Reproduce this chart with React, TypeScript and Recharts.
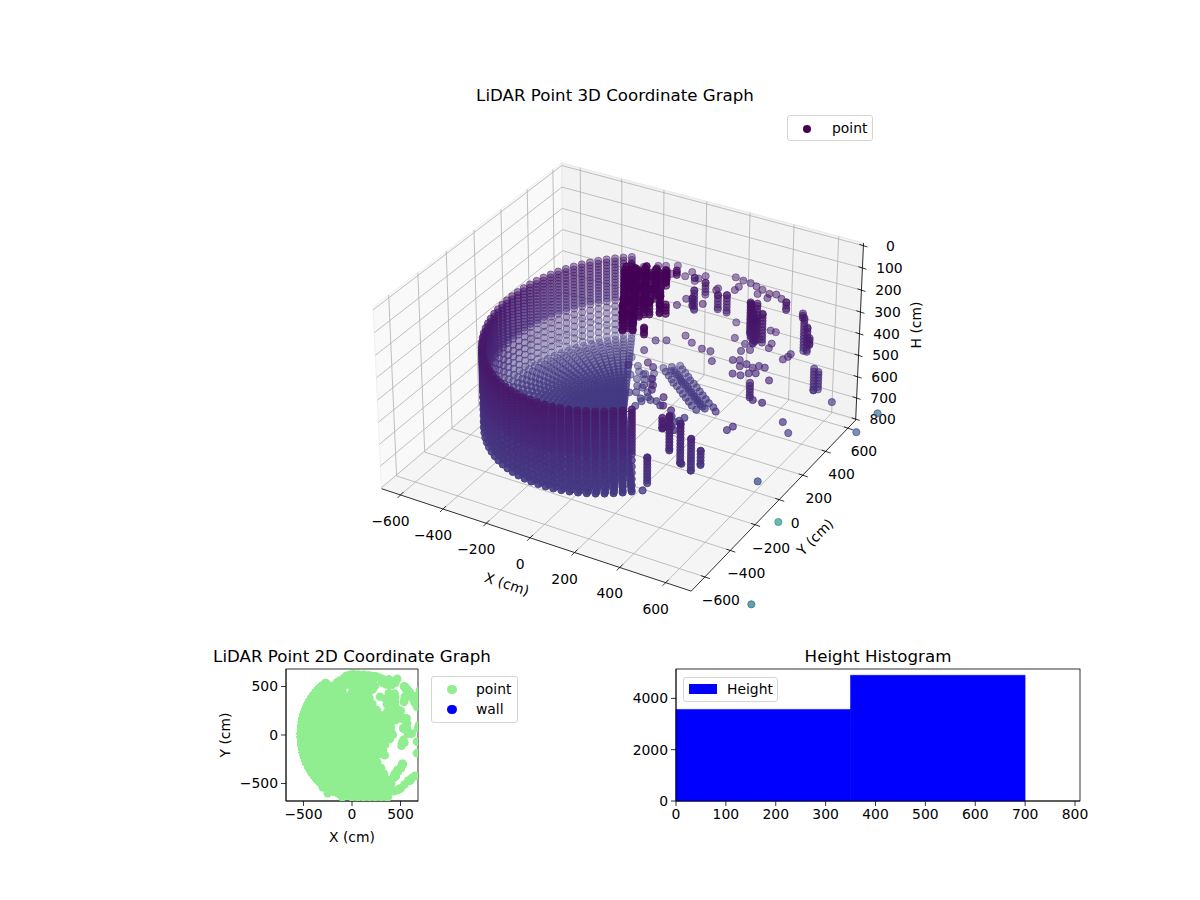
import React from "react";
import { ScatterChart, Scatter, XAxis, YAxis, BarChart, Bar, Legend } from "recharts";

// ---------- data ----------
const xTicks3d = [-600, -400, -200, 0, 200, 400, 600];
const yTicks3d = [-600, -400, -200, 0, 200, 400, 600];
const hTicks3d = [0, 100, 200, 300, 400, 500, 600, 700, 800];
const plan2dTicks = [-500, 0, 500];
const histXTicks = [0, 100, 200, 300, 400, 500, 600, 700, 800];
const histYTicks = [0, 2000, 4000];
const histBinMid = [175, 525];
const histCounts = [3570, 4900];

// wall and floor are sampled on the scanner's angle / height grid
const wallAngles = [121,124.6,128.2,131.8,135.4,139,142.6,146.2,149.8,153.4,157,160.6,164.2,167.8,171.4,175,178.6,182.2,185.8,189.4,193,196.6,200.2,203.8,207.4,211,214.6,218.2,221.8,225.4,229,232.6,236.2,239.8,243.4,247,250.6,254.2,257.8,261.4,265,268.6,272.2,275.8,279.4,283,286.6,290.2,293.8,297.4,301,304.6,308.2];
const wallHeights = [250,264,278,292,306,320,334,348,362,376,390,404,418,432,446,474,502,530,558,586,614];
const floorRadii = [0,0.04,0.08,0.12,0.16,0.2,0.24,0.28,0.32,0.36,0.4,0.44,0.48,0.52,0.56,0.6,0.64,0.68,0.72,0.76,0.8,0.84,0.88,0.92,0.96];
const wallRadiusX = 525;
const wallRadiusY = 620;
const floorHeight = 620;
const heightRows = [0,14,28,42,56,70,84,98,112,126,140,154,168,182,196,210,224,238,252,266,280,294,308,322,336,350,364,378,392,406,420,434,448,462,476,490,504,518,532,546,560];

// [X, Y, top H, bottom H]
const columns = [
  // dense low clutter near the scanner
  [-58,125,40,90],[-41,135,30,90],[-24,145,50,90],[-7,155,60,90],[10,166,40,90],[28,176,70,90],[45,186,50,100],[62,196,75,95],[79,206,60,95],[113,226,60,80],
  [-9,34,10,90],[25,54,15,90],[59,75,10,85],[94,95,25,90],[128,115,20,70],
  [8,44,15,90],[42,65,10,90],[77,85,20,90],[111,105,30,75],
  [39,-56,10,90],[73,-36,10,90],[107,-15,15,85],[142,5,20,70],[176,-16,30,80],[235,-76,30,70],
  [56,-46,10,90],[90,-25,10,80],[125,-5,25,80],[159,15,30,60],
  [88,-147,10,90],[122,-127,10,90],[156,-106,20,80],
  [105,-137,10,90],[139,-116,15,90],[174,-96,25,80],[208,-76,35,75],
  [137,-238,10,90],[171,-218,20,90],[232,-237,50,80],[154,-228,15,80],
  [-40,80,30,90],[-5,100,20,90],[30,120,20,90],[65,140,30,90],[100,160,30,85],
  [15,-10,10,90],[50,10,10,90],[85,30,15,90],[120,50,20,80],
  [65,-100,10,90],[100,-80,15,90],[135,-60,20,80],[110,-190,10,90],[145,-170,15,90],
  // upper ring
  [-200,507,265,265],[-152,544,265,265],[-125,560,265,265],[-83,584,265,265],[-122,498,265,290],[-72,512,265,265],[-14,523,265,265],[-6,567,265,265],
  [26,531,265,280],[43,533,265,265],[58,565,265,265],[84,517,265,320],[151,501,265,265],[177,453,265,330],[208,471,265,345],[151,485,265,265],
  [80,364,265,265],[75,440,265,355],[158,361,265,265],[72,303,265,265],[100,380,265,300],
  [170,616,265,265],[209,608,265,265],[217,555,265,265],[245,604,265,265],[278,592,265,265],[311,540,265,265],[312,580,265,265],[352,564,265,265],[361,530,265,265],[379,573,265,265],[413,553,265,265],[443,538,265,300],[216,523,265,265],
  // far right
  [538,499,270,290],[560,470,270,420],[590,440,290,400],[650,340,270,300],[660,370,420,520],[665,400,450,530],[700,460,610,610],
  // middle
  [380,350,190,330],[400,370,200,340],[420,300,200,340],[440,340,220,350],[450,260,200,300],[398,323,180,330],
  [347,373,400,400],[359,317,400,400],[387,341,400,400],[364,239,400,400],[388,253,400,400],[445,391,400,400],[439,427,400,400],[411,515,400,400],[387,516,400,400],[379,431,400,400],[235,505,400,400],[289,394,400,400],[543,393,400,400],[543,369,400,400],[535,341,400,400],[562,173,400,400],
  [411,211,400,400],[427,238,400,400],[461,226,400,400],[476,250,400,400],[502,250,400,400],[467,181,400,400],[491,195,400,400],[446,152,400,400],[413,148,400,400],
  [108,312,400,400],[157,276,400,400],[215,255,400,400],[254,255,400,400],[296,191,400,400],[22,220,400,400],[60,242,400,400],[20,132,400,400],[116,37,400,400],[81,56,400,400],[22,5,400,400],[158,-42,400,400],[184,-82,400,400],[197,-114,400,400],[264,-139,400,400],[293,-193,400,400],[337,-208,400,400],
  [533,68,364,430],[575,14,400,400],[616,14,400,400],[517,-85,500,500],[540,-80,480,480],[680,70,498,498],[690,100,561,561],[420,0,492,492],
  // low front columns
  [400,-500,430,545],[380,-500,584,584],[450,-420,276,428],[470,-370,331,506],[500,-340,405,547],[520,-300,474,538],[470,-360,515,515],[430,-440,280,326],
  // floor band and fragments
  [8,380,610,610],[30,360,610,610],[55,340,610,610],[80,320,610,610],[100,300,610,610],[125,285,610,610],[150,265,610,610],[175,245,610,610],[200,225,610,610],[225,205,610,610],[250,185,610,610],[281,166,610,610],
  [33,405,610,610],[55,385,610,610],[80,365,610,610],[105,345,610,610],[125,325,610,610],[150,310,610,610],[175,290,610,610],[200,270,610,610],[225,250,610,610],[250,230,610,610],[275,210,610,610],[306,191,610,610],
  [-17,355,610,610],[5,335,610,610],[30,315,610,610],[55,295,610,610],[75,275,610,610],[100,260,610,610],[125,240,610,610],[150,220,610,610],[175,200,610,610],[200,180,610,610],[225,160,610,610],[256,141,610,610],
  [20,350,610,610],[42,350,610,610],[68,330,610,610],[90,310,610,610],[112,292,610,610],[138,275,610,610],[162,255,610,610],[188,235,610,610],[212,215,610,610],[238,195,610,610],[265,175,610,610],
  [60,115,610,610],[114,99,610,610],[19,107,610,610],[40,130,610,610],[85,120,610,610],[-20,200,610,610],[-40,240,610,610],[-60,280,610,610],[20,160,610,610],[0,220,610,610],[-20,260,610,610],[-30,300,610,610],
  [-121,326,615,615],[-73,236,615,615],[-24,145,615,615],[25,54,615,615],[-178,373,615,615],[-113,252,615,615],[-48,131,615,615],[-68,279,615,615],[-20,188,615,615],[29,97,615,615],[-95,290,615,615],[-45,190,615,615],
  [213,-2,610,610],[237,37,610,610],[209,-36,610,610],[253,-33,610,610],[244,66,610,610],[194,51,610,610],[225,20,610,610],[230,-15,610,610],
];
// stray returns below the floor: [X, Y, H]
const strays = [[526,168,875],[92,1219,1825],[566,63,1390],[655,799,950],[518,1299,1170]];
// returns that only the plan view shows in full
const planX = [517,530,510,670,670,439,619,580,540,500,460,432,650,600,480,550,570,600,630,650,670,680,430,460,490,520,560,568,440,470,500,466,440,400,350,-250,-100,-300,-60,-20,20,70,120,-150,-150,-150,-100,-100,-100,-100,-50,-50,-50,-150,-200,-200];
const planY = [-85,-50,-110,-68,-187,-401,-442,-470,-510,-550,-570,-578,-420,-470,-560,493,460,420,370,330,290,310,300,270,230,180,130,119,250,210,170,578,560,540,520,-600,-640,-540,610,620,625,620,615,450,380,320,450,380,320,260,400,340,280,260,400,320];
const planRowY = [620,560,500,440,380,320,260,200,140,80,20,-40,-100,-160,-220,-280,-340,-400,-460,-520,-580,-640];
const planRowMaxX = [120,140,140,150,180,210,250,330,390,400,410,390,340,320,250,260,300,330,360,390,400,370];
const planRowSteps = [0,60,120,180,240,300,360];

const viridisStops = ["#440154","#471365","#482475","#463480","#414487","#3b528b","#355f8d","#2f6c8e","#2a788e","#25848e","#21918c","#1e9c89","#22a884"];

// ---------- 3D projection (elev 30, azim -60, H axis inverted) ----------
const X_LIM = [-690, 710];
const Y_LIM = [-705, 670];
const H_LIM = [805, -12];
const HALF_XY = 0.595;
const HALF_H = 0.34;
const project = (x: number, y: number, h: number) => {
  const a = ((x - X_LIM[0]) / (X_LIM[1] - X_LIM[0]) * 2 - 1) * HALF_XY;
  const b = ((y - Y_LIM[0]) / (Y_LIM[1] - Y_LIM[0]) * 2 - 1) * HALF_XY;
  const c = ((h - H_LIM[0]) / (H_LIM[1] - H_LIM[0]) * 2 - 1) * HALF_H;
  const xv = 0.866 * a + 0.5 * b;
  const yv = -0.25 * a + 0.433 * b + 0.866 * c;
  const zv = 0.433 * a - 0.75 * b + 0.5 * c;
  const d = 10 - zv;
  return { px: 623 + 2965 * (xv / d), py: 365.6 - 3046 * (yv / d), depth: d };
};
const P = (x: number, y: number, h: number) => {
  const p = project(x, y, h);
  return { px: p.px, py: p.py };
};

const viridis = (h: number) => {
  const t = Math.min(h / 3650, 0.6) / 0.6 * (viridisStops.length - 1);
  const i = Math.min(Math.floor(t), viridisStops.length - 2);
  const f = t - i;
  const hex = (s: string, k: number) => parseInt(s.slice(1 + k * 2, 3 + k * 2), 16);
  const ch = [0, 1, 2].map((k) => Math.round(hex(viridisStops[i], k) * (1 - f) + hex(viridisStops[i + 1], k) * f));
  return `rgb(${ch[0]},${ch[1]},${ch[2]})`;
};

// ---------- build the point table ----------
const raw: { x: number; y: number; h: number }[] = [];
wallAngles.forEach((deg) => {
  const rad = (deg * Math.PI) / 180;
  wallHeights.forEach((h) => raw.push({ x: wallRadiusX * Math.cos(rad), y: wallRadiusY * Math.sin(rad), h }));
  floorRadii.forEach((f) => raw.push({ x: f * wallRadiusX * Math.cos(rad), y: f * wallRadiusY * Math.sin(rad), h: floorHeight }));
});
columns.forEach(([x, y, top, bottom]) => {
  raw.push({ x, y, h: top });
  heightRows.filter((h) => h > top && h < bottom).forEach((h) => raw.push({ x, y, h }));
  if (bottom !== top) raw.push({ x, y, h: bottom });
});
strays.forEach(([x, y, h]) => raw.push({ x, y, h }));

const projected = raw.map((r) => ({ ...r, ...project(r.x, r.y, r.h) }));
const points3d = projected
  .slice()
  .sort((a, b) => b.depth - a.depth)
  .map((p) => {
    const n0 = Math.max(0, Math.min(1, (p.depth - 9.45) / 1.15));
    const n = p.h > 800 ? n0 * 0.4 : n0;
    const floorLevel = p.h >= 610 && p.h <= 620;
    const alpha = floorLevel ? Math.max(0.35, Math.min(0.9, 1.25 - n)) : 0.85 - 0.5 * n;
    return { ...p, color: viridis(p.h), alpha };
  });

const planFill: { X: number; Y: number }[] = [];
planRowY.forEach((y, i) => {
  planRowSteps.filter((s) => s < planRowMaxX[i]).forEach((s) => planFill.push({ X: s, Y: y }));
  planFill.push({ X: planRowMaxX[i], Y: y });
});
const plan2d = [
  ...raw.map((r) => ({ X: r.x, Y: r.y })),
  ...planX.map((x, i) => ({ X: x, Y: planY[i] })),
  ...planFill,
];
const hist = histBinMid.map((m, i) => ({ mid: m, count: histCounts[i] }));

// ---------- helpers ----------
const FONT = "'DejaVu Sans', sans-serif";
const GRID = "#b0b0b0";
const minus = (v: number) => String(v).replace("-", "\u2212");
const none = () => <g />;

const polyPts = (p: any) => p.points.map((q: any) => `${q.x},${q.y}`).join(" ");
const poly = (key: string, data: any[], stroke: string, width: number, fill?: string) => (
  <Scatter
    key={key}
    data={data}
    isAnimationActive={false}
    legendType="none"
    shape={none}
    line={(p: any) =>
      fill ? (
        <polygon key={key} points={polyPts(p)} fill={fill} stroke={stroke} strokeWidth={width} />
      ) : (
        <polyline key={key} points={polyPts(p)} fill="none" stroke={stroke} strokeWidth={width} />
      )
    }
  />
);

const tickShape = (dx0: number, dy0: number, dx1: number, dy1: number, lx: number, ly: number) => (p: any) => (
  <g>
    <line x1={p.cx + dx0} y1={p.cy + dy0} x2={p.cx + dx1} y2={p.cy + dy1} stroke="#000" strokeWidth={0.8} />
    <text x={p.cx + lx} y={p.cy + ly} textAnchor="middle" dominantBaseline="central" fontFamily={FONT} fontSize={13.9} fill="#000">
      {p.payload.label}
    </text>
  </g>
);

const dot3d = (p: any) => (
  <circle cx={p.cx} cy={p.cy} r={3.6} fill={p.payload.color} fillOpacity={p.payload.alpha} stroke={p.payload.color} strokeOpacity={p.payload.alpha} strokeWidth={1} />
);
const dot2d = (p: any) => <circle cx={p.cx} cy={p.cy} r={4.3} fill="#90ee90" />;

const [x0, x1] = X_LIM;
const [y0, y1] = Y_LIM;
const [hB, hT] = H_LIM;

const boxStyle: React.CSSProperties = {
  position: "absolute",
  background: "#fff",
  border: "1px solid #d5d5d5",
  borderRadius: 3,
  fontFamily: FONT,
  fontSize: 13.9,
  color: "#000",
  boxSizing: "border-box",
};
const LegendRow = ({ left, top, text, textLeft, color, r }: any) => (
  <>
    <span style={{ position: "absolute", left: left - r, top: top - r, width: 2 * r, height: 2 * r, borderRadius: "50%", background: color }} />
    <span style={{ position: "absolute", left: textLeft, top: top - 9, lineHeight: "16px" }}>{text}</span>
  </>
);

const Text = ({ x, y, size = 13.9, rotate = 0, children }: any) => (
  <text
    x={x}
    y={y}
    textAnchor="middle"
    dominantBaseline="central"
    fontFamily={FONT}
    fontSize={size}
    fill="#000"
    transform={rotate ? `rotate(${rotate} ${x} ${y})` : undefined}
  >
    {children}
  </text>
);

const axisTick = { fontFamily: FONT, fontSize: 13.9, fill: "#000" };
const axisLine = { stroke: "#000", strokeWidth: 0.8 };
const tickLine = { stroke: "#000", strokeWidth: 0.8 };

export default function App() {
  return (
    <div style={{ position: "absolute", left: 0, top: 0, width: 1200, height: 900, background: "#fff", overflow: "hidden" }}>
      {/* 3D panel */}
      <div style={{ position: "absolute", left: 0, top: 0 }}>
        <ScatterChart width={1200} height={900} margin={{ top: 0, right: 0, bottom: 0, left: 0 }}>
          <XAxis type="number" dataKey="px" domain={[0, 1200]} hide />
          <YAxis type="number" dataKey="py" domain={[0, 900]} reversed hide />
          <Legend
            content={() => (
              <div style={{ ...boxStyle, left: 787, top: 115, width: 86, height: 26 }}>
                <LegendRow left={19} top={12.5} r={4} color="#440154" text="point" textLeft={44} />
              </div>
            )}
            wrapperStyle={{ position: "absolute", left: 0, top: 0, width: 0, height: 0 }}
          />
          {poly("paneX", [P(x0, y0, hB), P(x0, y1, hB), P(x0, y1, hT), P(x0, y0, hT), P(x0, y0, hB)], "#f0f0f0", 1, "#f9f9f9")}
          {poly("paneY", [P(x0, y1, hB), P(x1, y1, hB), P(x1, y1, hT), P(x0, y1, hT), P(x0, y1, hB)], "#e8e8e8", 1, "#f2f2f2")}
          {poly("paneH", [P(x0, y0, hB), P(x1, y0, hB), P(x1, y1, hB), P(x0, y1, hB), P(x0, y0, hB)], "#eeeeee", 1, "#f5f5f5")}
          {xTicks3d.map((v) => poly(`gx${v}`, [P(v, y0, hB), P(v, y1, hB), P(v, y1, hT)], GRID, 0.8))}
          {yTicks3d.map((v) => poly(`gy${v}`, [P(x1, v, hB), P(x0, v, hB), P(x0, v, hT)], GRID, 0.8))}
          {hTicks3d.map((v) => poly(`gh${v}`, [P(x0, y0, v), P(x0, y1, v), P(x1, y1, v)], GRID, 0.8))}
          {poly("axX", [P(x0, y0, hB), P(x1, y0, hB)], "#000", 0.8)}
          {poly("axY", [P(x1, y0, hB), P(x1, y1, hB)], "#000", 0.8)}
          {poly("axH", [P(x1, y1, hB), P(x1, y1, hT)], "#000", 0.8)}
          <Scatter
            data={xTicks3d.map((v) => ({ ...P(v, y0, hB), label: minus(v) }))}
            isAnimationActive={false}
            legendType="none"
            shape={tickShape(3, -3, -3, 3, -10, 26)}
          />
          <Scatter
            data={yTicks3d.map((v) => ({ ...P(x1, v, hB), label: minus(v) }))}
            isAnimationActive={false}
            legendType="none"
            shape={tickShape(-4, -1.3, 5, 1.7, 16, 23)}
          />
          <Scatter
            data={hTicks3d.map((v) => ({ ...P(x1, y1, v), label: minus(v) }))}
            isAnimationActive={false}
            legendType="none"
            shape={tickShape(-4, -1.3, 4, 1.3, 27, 0)}
          />
          <Scatter name="point" data={points3d} isAnimationActive={false} shape={dot3d} />
          <Text x={615} y={95} size={16.67}>LiDAR Point 3D Coordinate Graph</Text>
          <Text x={507} y={584} rotate={18.5}>X (cm)</Text>
          <Text x={815} y={537} rotate={-45}>Y (cm)</Text>
          <Text x={916} y={325} rotate={-90}>H (cm)</Text>
        </ScatterChart>
      </div>

      {/* 2D panel */}
      <div style={{ position: "absolute", left: 200, top: 640 }}>
        <ScatterChart width={320} height={210} margin={{ top: 29, right: 102, bottom: 19, left: 30 }}>
          <XAxis type="number" dataKey="X" domain={[-680, 680]} ticks={plan2dTicks} allowDataOverflow height={30} tick={axisTick} tickFormatter={minus} tickSize={5} tickMargin={3} axisLine={axisLine} tickLine={tickLine} />
          <YAxis type="number" dataKey="Y" domain={[-680, 680]} ticks={plan2dTicks} allowDataOverflow width={56} tick={axisTick} tickFormatter={minus} tickSize={5} tickMargin={3} axisLine={axisLine} tickLine={tickLine} />
          <Scatter name="point" data={plan2d} isAnimationActive={false} shape={dot2d} />
          <Scatter name="wall" data={[]} isAnimationActive={false} fill="#0000ff" />
          <rect x={86} y={29} width={132} height={132} fill="none" stroke="#000" strokeWidth={0.8} />
          <Text x={152} y={16} size={16.67}>LiDAR Point 2D Coordinate Graph</Text>
          <Text x={152} y={197}>X (cm)</Text>
          <Text x={25} y={95} rotate={-90}>Y (cm)</Text>
        </ScatterChart>
      </div>
      <div style={{ ...boxStyle, left: 431, top: 676, width: 87, height: 47 }}>
        <LegendRow left={20} top={12.5} r={4.6} color="#90ee90" text="point" textLeft={44} />
        <LegendRow left={20} top={32.5} r={4.6} color="#0000ff" text="wall" textLeft={44} />
      </div>

      {/* Histogram */}
      <div style={{ position: "absolute", left: 620, top: 640 }}>
        <BarChart width={480} height={210} data={hist} margin={{ top: 29, right: 20, bottom: 19, left: 6 }} barCategoryGap={0}>
          <XAxis type="number" dataKey="mid" domain={[0, 810]} ticks={histXTicks} height={30} tick={axisTick} tickSize={5} tickMargin={3} axisLine={axisLine} tickLine={tickLine} interval={0} />
          <YAxis type="number" domain={[0, 5145]} ticks={histYTicks} width={50} tick={axisTick} tickSize={5} tickMargin={3} axisLine={axisLine} tickLine={tickLine} />
          <Bar dataKey="count" name="Height" fill="#0000ff" stroke="#0000ff" strokeWidth={0.6} barSize={174.5} isAnimationActive={false} />
          <rect x={56} y={29} width={404} height={132} fill="none" stroke="#000" strokeWidth={0.8} />
          <Text x={258} y={16} size={16.67}>Height Histogram</Text>
        </BarChart>
      </div>
      <div style={{ ...boxStyle, left: 683, top: 677, width: 95, height: 25 }}>
        <span style={{ position: "absolute", left: 5, top: 6, width: 28, height: 10, background: "#0000ff" }} />
        <span style={{ position: "absolute", left: 43, top: 3, lineHeight: "16px" }}>Height</span>
      </div>
    </div>
  );
}
